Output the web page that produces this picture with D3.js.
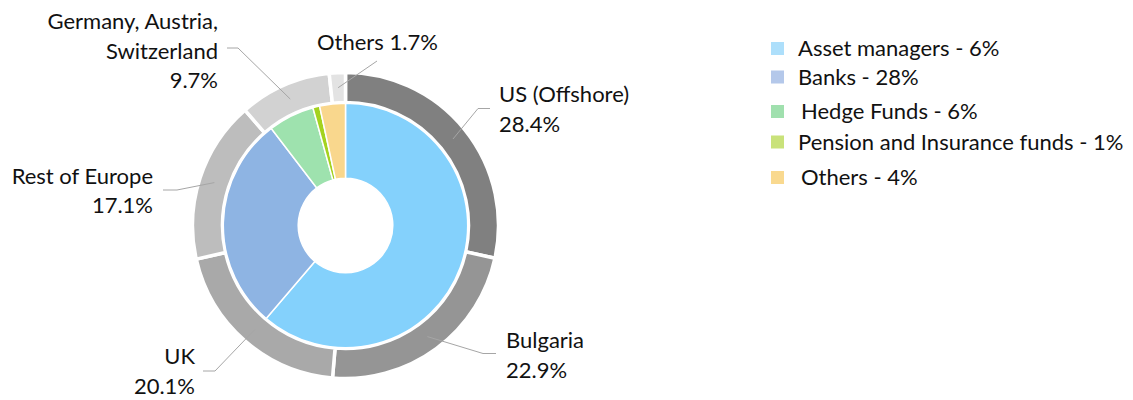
<!DOCTYPE html>
<html>
<head>
<meta charset="utf-8">
<script src="https://cdn.jsdelivr.net/npm/d3@7"></script>
<style>
  html, body { margin: 0; padding: 0; background: #fff; }
  svg text { font-family: Lato, "Open Sans", sans-serif; fill: #111; }
</style>
</head>
<body>
<svg id="chart" width="1133" height="400"></svg>
<script>
// ---- data ----
const regionNames = ["US (Offshore)", "Bulgaria", "UK", "Rest of Europe", "Germany, Austria, Switzerland", "Others"];
const regionLabelLines = [["US (Offshore)", "28.4%"], ["Bulgaria", "22.9%"], ["UK", "20.1%"], ["Rest of Europe", "17.1%"], ["Germany, Austria,", "Switzerland", "9.7%"], ["Others 1.7%"]];
const regionValues = [28.4, 22.9, 20.1, 17.1, 9.7, 1.7];
const investorNames = ["Asset managers", "Banks", "Hedge Funds", "Pension and Insurance funds", "Others"];
const investorValues = [61.3, 28.4, 6.1, 0.9, 3.4];
const legendLabels = ["Asset managers - 6%", "Banks - 28%", "Hedge Funds - 6%", "Pension and Insurance funds - 1%", "Others - 4%"];

// ---- styles / layout ----
const regionColors = ["#808080", "#959595", "#a9a9a9", "#bdbdbd", "#d2d2d2", "#e3e3e3"];
const investorColors = ["#84d1fc", "#8eb4e3", "#9ee2ae", "#a4d21f", "#f9d78d"];
const legendColors = ["#addffb", "#b4c8ea", "#a0e0ae", "#c9e27a", "#f9d98f"];
const cx = 345.5, cy = 225.5;
const fontSize = 22;
// label layout: [text x, first baseline y, anchor, elbow x, elbow y, end x, end y]
const labelLayout = [
  [499, 102, "start", 478, 108.5, 490, 108.5],
  [506, 348, "start", 483, 353.5, 496, 353.5],
  [195, 364, "end", 215, 371, 203, 371],
  [153, 183.5, "end", 177, 190, 163, 190],
  [218, 29, "end", 238, 48, 227, 48],
  [317, 50, "start", 377, 61, 377, 61]
];
const lineGap = 29.5;
const legendX = 771, legendTextX = [798, 798, 801, 798, 801];
const legendRowY = [48.5, 77, 111.5, 142, 177.5];

const svg = d3.select("#chart");
const g = svg.append("g").attr("transform", `translate(${cx},${cy})`);

const pie = d3.pie().sort(null).value(d => d);

// outer ring (regions)
const outerArc = d3.arc().innerRadius(123).outerRadius(153);
const centroidArc = d3.arc().innerRadius(124).outerRadius(152);
const regionArcs = pie(regionValues);
g.selectAll("path.region").data(regionArcs).enter().append("path")
  .attr("class", "region")
  .attr("d", outerArc)
  .attr("fill", (d, i) => regionColors[i])
  .attr("stroke", "#fff").attr("stroke-width", 3.5);

// inner donut (investors)
const innerArc = d3.arc().innerRadius(47.3).outerRadius(122.2);
g.selectAll("path.inv").data(pie(investorValues)).enter().append("path")
  .attr("class", "inv")
  .attr("d", innerArc)
  .attr("fill", (d, i) => investorColors[i])
  .attr("stroke", "#fff").attr("stroke-width", 1.5);

// leader lines and labels
regionArcs.forEach((d, i) => {
  const c = centroidArc.centroid(d);
  const L = labelLayout[i];
  const pts = [[c[0] + cx, c[1] + cy], [L[3], L[4]], [L[5], L[6]]];
  svg.append("path")
    .attr("d", d3.line()(pts))
    .attr("fill", "none").attr("stroke", "#a6a6a6").attr("stroke-width", 1);
  const t = svg.append("text").attr("text-anchor", L[2]).attr("font-size", fontSize);
  regionLabelLines[i].forEach((line, j) => {
    t.append("tspan").attr("x", L[0]).attr("y", L[1] + j * lineGap).text(line);
  });
});

// legend
legendLabels.forEach((lab, i) => {
  const y = legendRowY[i];
  svg.append("rect").attr("x", legendX).attr("y", y - 6.5).attr("width", 13).attr("height", 13)
    .attr("fill", legendColors[i]);
  svg.append("text").attr("x", legendTextX[i]).attr("y", y + 7.5)
    .attr("font-size", fontSize).text(lab);
});
</script>
</body>
</html>
